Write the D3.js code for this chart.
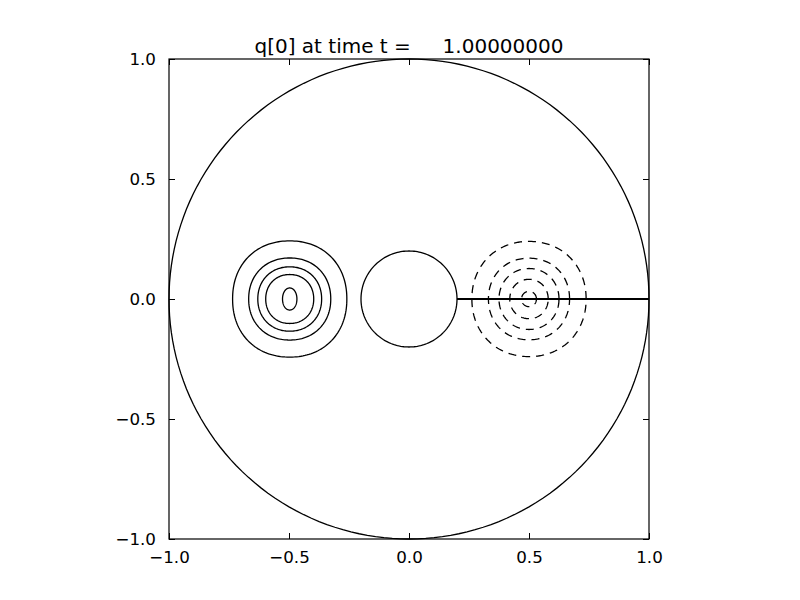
<!DOCTYPE html>
<html>
<head>
<meta charset="utf-8">
<script src="https://cdn.jsdelivr.net/npm/d3@7"></script>
<style>
	body { margin: 0; background: #fff; }
	text { font-family: "DejaVu Sans", sans-serif; fill: #000; }
</style>
</head>
<body>
<svg id="chart_svg" width="800" height="600"></svg>
<script>
// values (data units)
var xTicks = [-1.0, -0.5, 0.0, 0.5, 1.0];
var yTicks = [-1.0, -0.5, 0.0, 0.5, 1.0];
var titleText = "q[0] at time t =     1.00000000";
var boundaryRadii = [1.0, 0.2];
var cutLine = [[0.2, 0.0], [1.0, 0.0]];

// solid contours (positive), around (-0.5, 0)
var posCenter = [-0.497, 0.0];
var posRx = [0.238, 0.171, 0.133, 0.100, 0.030];
var posRy = [0.242, 0.171, 0.134, 0.102, 0.046];
var posShape = [2.15, 2.12, 2.1, 2.1, 2.05];

// dashed contours (negative), around (0.5, 0)
var negCenter = [0.5, 0.0];
var negRx = [0.238, 0.169, 0.125, 0.080, 0.031];
var negRy = [0.240, 0.170, 0.127, 0.082, 0.032];
var negShape = [2.1, 2.1, 2.05, 2.05, 2.0];

var svg = d3.select("#chart_svg"),
	margin = {top: 59, left: 169},
	size = 480,
	g = svg.append("g").attr("transform", "translate(" + margin.left + "," + margin.top + ")");

var x = d3.scaleLinear().domain([-1, 1]).range([0, size]);
var y = d3.scaleLinear().domain([-1, 1]).range([size, 0]);

var line = d3.line()
	.x(function(d) { return x(d[0]); })
	.y(function(d) { return y(d[1]); });

// closed curve through |dx/rx|^n + |dy/ry|^n = 1
function ring(c, rx, ry, n) {
	var pts = [];
	for (var i = 0; i <= 180; i++) {
		var a = i / 180 * 2 * Math.PI,
			ca = Math.cos(a), sa = Math.sin(a);
		pts.push([
			c[0] + rx * Math.sign(ca) * Math.pow(Math.abs(ca), 2 / n),
			c[1] + ry * Math.sign(sa) * Math.pow(Math.abs(sa), 2 / n)
		]);
	}
	return pts;
}

var minus = function(v) { return d3.format(".1f")(v).replace("-", "\u2212"); };

// domain boundary circles
g.append("g")
	.selectAll("path")
	.data(boundaryRadii)
	.enter()
	.append("path")
	.attr("d", function(r) { return line(ring([0, 0], r, r, 2)); })
	.attr("fill", "none")
	.attr("stroke", "#000")
	.attr("stroke-width", 1.3);

g.append("path")
	.attr("d", line(cutLine))
	.attr("fill", "none")
	.attr("stroke", "#000")
	.attr("stroke-width", 2);

g.append("g")
	.selectAll("path")
	.data(posRx)
	.enter()
	.append("path")
	.attr("d", function(d, i) { return line(ring(posCenter, d, posRy[i], posShape[i])); })
	.attr("fill", "none")
	.attr("stroke", "#000")
	.attr("stroke-width", 1.3);

g.append("g")
	.selectAll("path")
	.data(negRx)
	.enter()
	.append("path")
	.attr("d", function(d, i) { return line(ring(negCenter, d, negRy[i], negShape[i])); })
	.attr("fill", "none")
	.attr("stroke", "#000")
	.attr("stroke-width", 1.3)
	.attr("stroke-dasharray", "8,6");

// frame
g.append("rect")
	.attr("x", 0).attr("y", 0)
	.attr("width", size).attr("height", size)
	.attr("fill", "none")
	.attr("stroke", "#000")
	.attr("stroke-width", 1.2);

// ticks point inward on all four sides
function styleAxis(sel) {
	sel.select(".domain").remove();
	sel.selectAll(".tick line").attr("stroke", "#000").attr("stroke-width", 1);
	sel.selectAll(".tick text").style("font-size", "16.7px");
}

g.append("g")
	.attr("transform", "translate(0," + size + ")")
	.call(d3.axisBottom(x).tickValues(xTicks).tickFormat(minus).tickSizeInner(-6).tickPadding(12))
	.call(styleAxis);

g.append("g")
	.call(d3.axisTop(x).tickValues(xTicks).tickSizeInner(-6).tickFormat(""))
	.call(styleAxis);

g.append("g")
	.call(d3.axisLeft(y).tickValues(yTicks).tickFormat(minus).tickSizeInner(-6).tickPadding(13))
	.call(styleAxis);

g.append("g")
	.attr("transform", "translate(" + size + ",0)")
	.call(d3.axisRight(y).tickValues(yTicks).tickSizeInner(-6).tickFormat(""))
	.call(styleAxis);

svg.append("text")
	.attr("x", margin.left + size / 2)
	.attr("y", 53)
	.attr("text-anchor", "middle")
	.style("font-size", "20px")
	.style("white-space", "pre")
	.text(titleText);
</script>
</body>
</html>
